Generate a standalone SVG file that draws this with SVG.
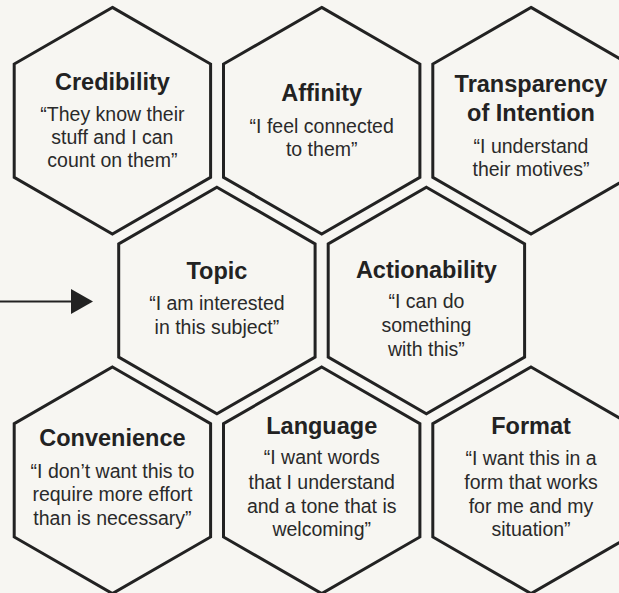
<svg xmlns="http://www.w3.org/2000/svg" xmlns:xlink="http://www.w3.org/1999/xlink" width="619" height="593" viewBox="0 0 619 593">
  <style>
    .hex { fill: #f7f6f2; stroke: #222222; stroke-width: 3; stroke-linejoin: miter; }
    .title { font-family: "Liberation Sans", Arial, sans-serif; font-weight: bold; font-size: 23.5px; fill: #222222; text-anchor: middle; }
    .quote { font-family: "Liberation Sans", Arial, sans-serif; font-size: 19.5px; fill: #2a2a2a; text-anchor: middle; }
    .conn { stroke: #222222; stroke-width: 2; fill: none; }
  </style>
  <defs>
    <polygon id="hex" class="hex" points="0,-113.3 98.2,-56.65 98.2,56.65 0,113.3 -98.2,56.65 -98.2,-56.65"/>
    <marker id="arrowhead" markerUnits="userSpaceOnUse" markerWidth="24" markerHeight="26" refX="0" refY="12.5" orient="auto">
      <polygon points="0,0 22,12.5 0,25" fill="#222222"/>
    </marker>
  </defs>
  <rect x="0" y="0" width="619" height="593" fill="#f7f6f2"/>

  <g id="connectors">
    <line class="conn" x1="0" y1="301.5" x2="71" y2="301.5" marker-end="url(#arrowhead)"/>
  </g>

  <g id="credibility" transform="translate(112.4,120.7)">
    <use xlink:href="#hex" href="#hex"/>
    <text class="title" x="0" y="-30.7">Credibility</text>
    <text class="quote" x="0" y="0">“They know their</text>
    <text class="quote" x="0" y="23">stuff and I can</text>
    <text class="quote" x="0" y="46">count on them”</text>
  </g>

  <g id="affinity" transform="translate(321.7,120.7)">
    <use xlink:href="#hex" href="#hex"/>
    <text class="title" x="0" y="-19.7">Affinity</text>
    <text class="quote" x="0" y="12.6">“I feel connected</text>
    <text class="quote" x="0" y="35.3">to them”</text>
  </g>

  <g id="transparency" transform="translate(531,120.7)">
    <use xlink:href="#hex" href="#hex"/>
    <text class="title" x="0" y="-29.2">Transparency</text>
    <text class="title" x="0" y="0">of Intention</text>
    <text class="quote" x="0" y="32">“I understand</text>
    <text class="quote" x="0" y="55">their motives”</text>
  </g>

  <g id="topic" transform="translate(216.9,300.5)">
    <use xlink:href="#hex" href="#hex"/>
    <text class="title" x="0" y="-21.2">Topic</text>
    <text class="quote" x="0" y="9.5">“I am interested</text>
    <text class="quote" x="0" y="33.5">in this subject”</text>
  </g>

  <g id="actionability" transform="translate(426.4,300.5)">
    <use xlink:href="#hex" href="#hex"/>
    <text class="title" x="0" y="-22.8">Actionability</text>
    <text class="quote" x="0" y="7.8">“I can do</text>
    <text class="quote" x="0" y="31.2">something</text>
    <text class="quote" x="0" y="55.2">with this”</text>
  </g>

  <g id="convenience" transform="translate(112.4,480.3)">
    <use xlink:href="#hex" href="#hex"/>
    <text class="title" x="0" y="-34.6">Convenience</text>
    <text class="quote" x="0" y="-2.6">“I don’t want this to</text>
    <text class="quote" x="0" y="20.7">require more effort</text>
    <text class="quote" x="0" y="44.7">than is necessary”</text>
  </g>

  <g id="language" transform="translate(321.7,480.3)">
    <use xlink:href="#hex" href="#hex"/>
    <text class="title" x="0" y="-46">Language</text>
    <text class="quote" x="0" y="-16.3">“I want words</text>
    <text class="quote" x="0" y="8.4">that I understand</text>
    <text class="quote" x="0" y="32.4">and a tone that is</text>
    <text class="quote" x="0" y="55.7">welcoming”</text>
  </g>

  <g id="format" transform="translate(531,480.3)">
    <use xlink:href="#hex" href="#hex"/>
    <text class="title" x="0" y="-46">Format</text>
    <text class="quote" x="0" y="-15.3">“I want this in a</text>
    <text class="quote" x="0" y="8.7">form that works</text>
    <text class="quote" x="0" y="32.4">for me and my</text>
    <text class="quote" x="0" y="55.7">situation”</text>
  </g>
</svg>
